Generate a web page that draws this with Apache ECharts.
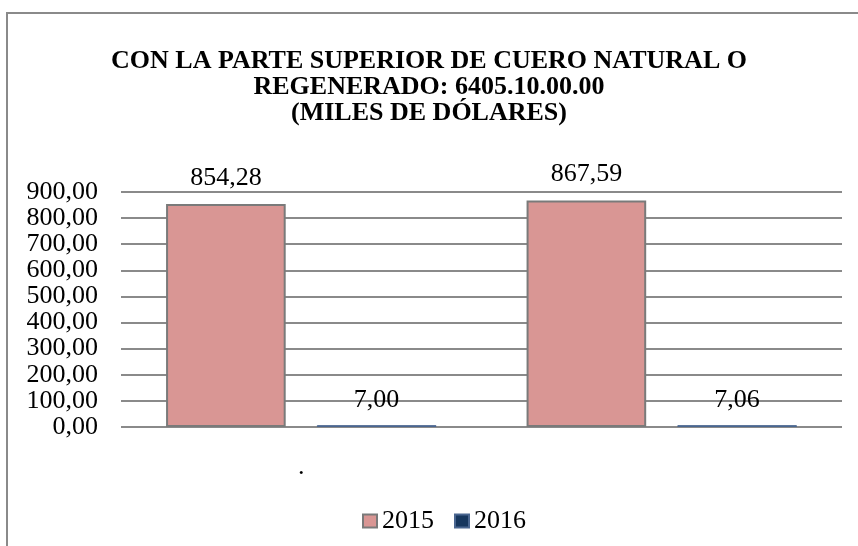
<!DOCTYPE html>
<html>
<head>
<meta charset="utf-8">
<title>6405.10.00.00</title>
<script src="https://cdn.jsdelivr.net/npm/echarts@6/dist/echarts.min.js"></script>
<style>
  html, body { margin: 0; padding: 0; background: #fff; }
  #chart { width: 858px; height: 546px; }
</style>
</head>
<body>
<div id="chart"></div>
<script>
  // datos del grafico
  var categorias = ['.', ''];
  var anios = ['2015', '2016'];
  var valores2015 = [854.28, 867.59];
  var valores2016 = [7.00, 7.06];
  var ejeMin = 0, ejeMax = 900, ejeIntervalo = 100;

  var fuente = "'Liberation Serif', 'Times New Roman', serif";

  function coma(v) {
    return Number(v).toFixed(2).replace('.', ',');
  }

  var chart = echarts.init(document.getElementById('chart'));

  var option = {
    backgroundColor: '#fff',
    animation: false,
    textStyle: { fontFamily: fuente },
    // marco del grafico (solo se ve arriba y a la izquierda)
    graphic: [{
      type: 'rect',
      shape: { x: 7, y: 13, width: 1000, height: 1000 },
      style: { fill: 'none', stroke: '#8a8a8a', lineWidth: 2 },
      silent: true
    }],
    title: {
      text: 'CON LA PARTE SUPERIOR DE CUERO NATURAL O\nREGENERADO: 6405.10.00.00\n(MILES DE DÓLARES)',
      left: 'center',
      top: 43,
      textStyle: {
        fontFamily: fuente,
        fontSize: 26,
        fontWeight: 'bold',
        lineHeight: 26,
        color: '#000'
      }
    },
    legend: {
      data: anios,
      left: 357,
      top: 503,
      icon: 'rect',
      itemWidth: 14,
      itemHeight: 13,
      itemGap: 20,
      textStyle: { fontFamily: fuente, fontSize: 26, color: '#000' }
    },
    grid: { left: 121, right: 16, top: 192, bottom: 119 },
    xAxis: {
      type: 'category',
      data: categorias,
      axisLine: { show: false },
      axisTick: { show: false },
      axisLabel: { margin: 27, fontFamily: fuente, fontSize: 26, color: '#000' }
    },
    yAxis: {
      type: 'value',
      min: ejeMin,
      max: ejeMax,
      interval: ejeIntervalo,
      axisLine: { show: false },
      axisTick: { show: false },
      axisLabel: {
        margin: 23,
        fontFamily: fuente,
        fontSize: 26,
        color: '#000',
        formatter: coma
      },
      splitLine: { lineStyle: { color: '#8a8a8a', width: 2 } }
    },
    series: [{
      name: anios[0],
      type: 'bar',
      data: valores2015,
      barCategoryGap: '25%',
      barGap: '26%',
      itemStyle: { color: '#d99694', borderColor: '#7a7a7a', borderWidth: 2 },
      label: {
        show: true, position: 'top', distance: 13,
        fontFamily: fuente, fontSize: 26, color: '#000',
        formatter: function (p) { return coma(p.value); }
      }
    }, {
      name: anios[1],
      type: 'bar',
      data: valores2016,
      barCategoryGap: '25%',
      barGap: '26%',
      itemStyle: { color: '#17375e', borderColor: '#4a6690', borderWidth: 1 },
      label: {
        show: true, position: 'top', distance: 12,
        fontFamily: fuente, fontSize: 26, color: '#000',
        formatter: function (p) { return coma(p.value); }
      }
    }]
  };

  chart.setOption(option);
</script>
</body>
</html>
